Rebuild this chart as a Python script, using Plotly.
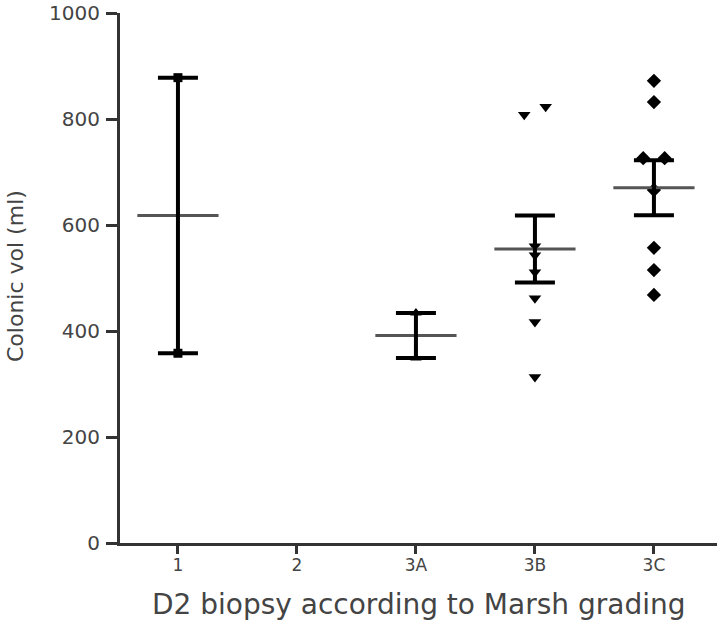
import numpy as np
import plotly.graph_objects as go

# ---- data ----
categories = ["1", "2", "3A", "3B", "3C"]
grade_1 = [878, 358]
grade_2 = []
grade_3a = [434, 349]
grade_3b = [823, 808, 560, 543, 511, 462, 417, 313]
grade_3c = [872, 832, 726, 726, 666, 557, 515, 468]
y_ticks = [0, 200, 400, 600, 800, 1000]
x_title = "D2 biopsy according to Marsh grading"
y_title = "Colonic vol (ml)"

groups = [grade_1, grade_2, grade_3a, grade_3b, grade_3c]
symbols = ["square", "circle", "triangle-up", "triangle-down", "diamond"]
sizes = [9, 9, 10, 11, 11]

FONT = "DejaVu Sans, Liberation Sans, Arial, sans-serif"
AXIS_COLOR = "#333333"
TEXT_COLOR = "#444444"

W, H = 717, 623
ML, MR, MT, MB = 120, 0, 13, 80
PW, PH = W - ML - MR, H - MT - MB


def spread(values, thresh=16, d=0.09):
    """horizontal offsets so near-identical values do not overlap"""
    order = np.argsort(values)
    off = np.zeros(len(values))
    used = set()
    for a, b in zip(order[:-1], order[1:]):
        if a in used or b in used:
            continue
        if abs(values[a] - values[b]) < thresh:
            off[a], off[b] = -d, d
            used.update([a, b])
    return off


fig = go.Figure()
for i, vals in enumerate(groups):
    if not vals:
        continue
    v = np.array(vals, dtype=float)
    xs = i + spread(v)
    mean = v.mean()
    sem = v.std(ddof=1) / np.sqrt(len(v))
    fig.add_trace(go.Scatter(
        x=xs, y=v, mode="markers",
        marker=dict(symbol=symbols[i], size=sizes[i], color="black"),
        showlegend=False, hoverinfo="y"))
    fig.add_trace(go.Scatter(
        x=[i], y=[mean], mode="markers",
        marker=dict(symbol="line-ew", size=58,
                    line=dict(width=3, color="#555555")),
        showlegend=False, hoverinfo="y"))
    fig.add_trace(go.Scatter(
        x=[i], y=[mean], mode="markers",
        marker=dict(size=1, color="black"),
        error_y=dict(type="data", array=[sem], visible=True,
                     color="black", thickness=4, width=20),
        showlegend=False, hoverinfo="y"))

fig.update_layout(
    width=W, height=H,
    margin=dict(l=ML, r=MR, t=MT, b=MB),
    plot_bgcolor="white", paper_bgcolor="white",
    font=dict(family=FONT, color=TEXT_COLOR),
    xaxis=dict(
        automargin=False,
        range=[-0.487, 4.53],
        tickmode="array", tickvals=list(range(len(categories))),
        ticktext=categories,
        showline=True, linewidth=3, linecolor=AXIS_COLOR,
        ticks="outside", ticklen=8, tickwidth=2.5, tickcolor=AXIS_COLOR,
        ticklabelstandoff=-3,
        showgrid=False, zeroline=False,
        tickfont=dict(size=17, color=TEXT_COLOR),
    ),
    yaxis=dict(
        automargin=False,
        range=[0, 1000],
        tickmode="array", tickvals=y_ticks,
        showline=True, linewidth=3, linecolor=AXIS_COLOR,
        ticks="outside", ticklen=11, tickwidth=2.5, tickcolor=AXIS_COLOR,
        ticklabelstandoff=2,
        showgrid=False, zeroline=False,
        tickfont=dict(size=20, color=TEXT_COLOR),
    ),
    annotations=[
        dict(text=x_title, xref="paper", yref="paper",
             x=(418 - ML) / PW, y=(MT + PH - 604) / PH,
             xanchor="center", yanchor="middle", showarrow=False,
             font=dict(size=28, color=TEXT_COLOR)),
        dict(text=y_title, xref="paper", yref="paper",
             x=(15 - ML) / PW, y=(MT + PH - 276) / PH,
             xanchor="center", yanchor="middle", showarrow=False,
             textangle=-90,
             font=dict(size=22, color=TEXT_COLOR)),
    ],
)

fig.write_html(
    "out.html",
    config={"displayModeBar": False},
    post_script="document.body.style.margin='0';document.body.style.overflow='hidden';",
)
